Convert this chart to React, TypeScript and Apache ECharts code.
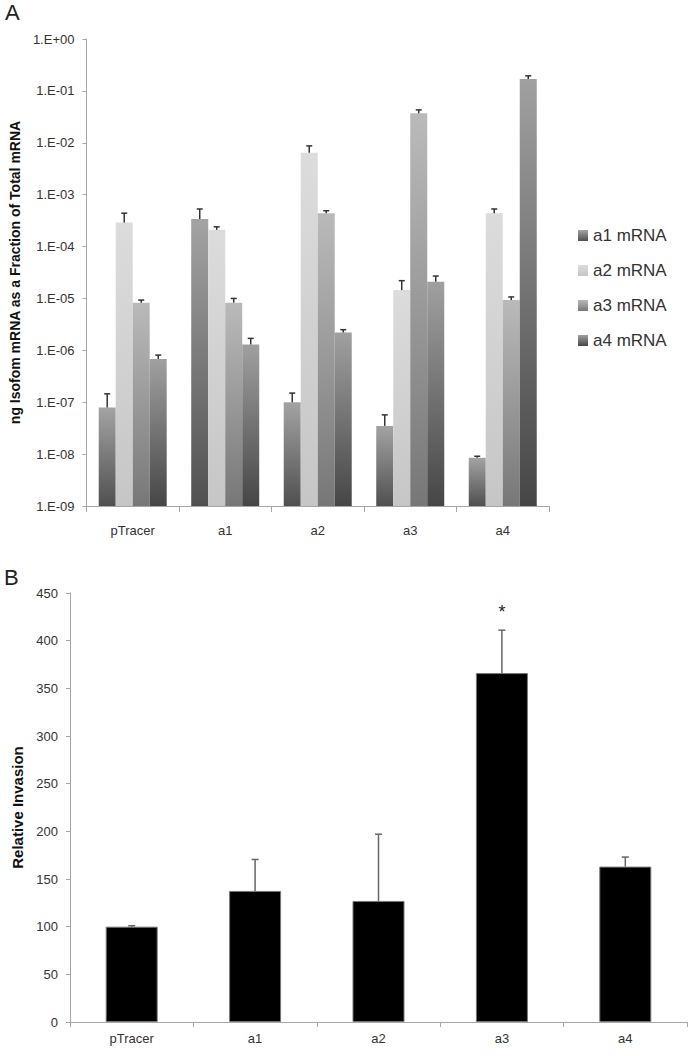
import React, { useEffect, useRef } from "react";
import * as echarts from "echarts";

// ---------- Panel A data ----------
const groupsA = ["pTracer", "a1", "a2", "a3", "a4"];
const seriesNamesA = ["a1 mRNA", "a2 mRNA", "a3 mRNA", "a4 mRNA"];
const a1mRNA = [7.9e-8, 3.4e-4, 1.0e-7, 3.5e-8, 8.5e-9];
const a2mRNA = [2.9e-4, 2.1e-4, 6.4e-3, 1.45e-5, 4.4e-4];
const a3mRNA = [8.3e-6, 8.3e-6, 4.4e-4, 3.7e-2, 9.3e-6];
const a4mRNA = [6.8e-7, 1.3e-6, 2.2e-6, 2.1e-5, 0.17];
// upper end of error bars
const a1mRNAErrTop = [1.45e-7, 5.3e-4, 1.5e-7, 5.7e-8, 9.1e-9];
const a2mRNAErrTop = [4.4e-4, 2.4e-4, 8.7e-3, 2.2e-5, 5.3e-4];
const a3mRNAErrTop = [9.3e-6, 1.0e-5, 4.9e-4, 4.3e-2, 1.07e-5];
const a4mRNAErrTop = [8.1e-7, 1.7e-6, 2.5e-6, 2.7e-5, 0.195];
const yMinA = 1e-9;
const yMaxA = 1;

// ---------- Panel B data ----------
const groupsB = ["pTracer", "a1", "a2", "a3", "a4"];
const invasion = [100, 137.5, 127, 366, 163];
const invasionErrTop = [101, 170.5, 197, 411, 173];
const significance = ["", "", "", "*", ""];

const FONT = "Liberation Sans, Arial, sans-serif";
const BAR_W = 17;

const gradientStops = [
  ["#a3a3a3", "#505050"],
  ["#dcdcdc", "#c6c6c6"],
  ["#bababa", "#777777"],
  ["#a0a0a0", "#464646"],
];

function grad(i: number) {
  return new echarts.graphic.LinearGradient(0, 0, 0, 1, [
    { offset: 0, color: gradientStops[i][0] },
    { offset: 1, color: gradientStops[i][1] },
  ]);
}

function expLabel(v: number) {
  const e = Math.round(Math.log10(v));
  return "1.E" + (e >= 0 ? "+" : "-") + String(Math.abs(e)).padStart(2, "0");
}

export default function App() {
  const ref = useRef<HTMLDivElement>(null);

  useEffect(() => {
    if (!ref.current) return;
    const chart = echarts.init(ref.current, undefined, { renderer: "svg" });

    const valuesA = [a1mRNA, a2mRNA, a3mRNA, a4mRNA];
    const errsA = [a1mRNAErrTop, a2mRNAErrTop, a3mRNAErrTop, a4mRNAErrTop];

    const barSeriesA = seriesNamesA.map((name, si) => ({
      name,
      type: "custom",
      xAxisIndex: 0,
      yAxisIndex: 0,
      itemStyle: { color: grad(si) },
      encode: { x: 0, y: 1 },
      data: valuesA[si].map((v, ci) => [ci, v]),
      renderItem: (params: any, api: any) => {
        const ci = api.value(0);
        const v = api.value(1);
        const top = api.coord([ci, v]);
        const base = api.coord([ci, yMinA]);
        const x = top[0] + (si - 1.5) * BAR_W - BAR_W / 2;
        return {
          type: "rect",
          shape: { x, y: top[1], width: BAR_W, height: base[1] - top[1] },
          style: { fill: grad(si) },
        };
      },
    }));

    const errDataA: number[][] = [];
    valuesA.forEach((arr, si) =>
      arr.forEach((v, ci) => errDataA.push([ci, si, v, errsA[si][ci]]))
    );

    const errSeriesA = {
      name: "errA",
      type: "custom",
      xAxisIndex: 0,
      yAxisIndex: 0,
      encode: { x: 0, y: [2, 3] },
      data: errDataA,
      z: 5,
      renderItem: (params: any, api: any) => {
        const ci = api.value(0);
        const si = api.value(1);
        const p0 = api.coord([ci, api.value(2)]);
        const p1 = api.coord([ci, api.value(3)]);
        const cx = p0[0] + (si - 1.5) * BAR_W;
        const st = { stroke: "#333", lineWidth: 1.5 };
        return {
          type: "group",
          children: [
            { type: "line", shape: { x1: cx, y1: p0[1], x2: cx, y2: p1[1] }, style: st },
            { type: "line", shape: { x1: cx - 3, y1: p1[1], x2: cx + 3, y2: p1[1] }, style: st },
          ],
        };
      },
    };

    const barSeriesB = {
      name: "Relative Invasion",
      type: "bar",
      xAxisIndex: 1,
      yAxisIndex: 1,
      barWidth: 52,
      itemStyle: { color: "#000", borderColor: "#777", borderWidth: 1 },
      data: invasion,
    };

    const errSeriesB = {
      name: "errB",
      type: "custom",
      xAxisIndex: 1,
      yAxisIndex: 1,
      encode: { x: 0, y: [1, 2] },
      data: invasion.map((v, i) => [i, v, invasionErrTop[i]]),
      z: 5,
      renderItem: (params: any, api: any) => {
        const ci = api.value(0);
        const p0 = api.coord([ci, api.value(1)]);
        const p1 = api.coord([ci, api.value(2)]);
        const st = { stroke: "#666", lineWidth: 1.5 };
        const children: any[] = [
          { type: "line", shape: { x1: p0[0], y1: p0[1], x2: p0[0], y2: p1[1] }, style: st },
          { type: "line", shape: { x1: p0[0] - 3.5, y1: p1[1], x2: p0[0] + 3.5, y2: p1[1] }, style: st },
        ];
        const sig = significance[ci];
        if (sig) {
          children.push({
            type: "text",
            x: p0[0],
            y: p1[1] - 18,
            style: {
              text: sig,
              fill: "#222",
              fontSize: 18,
              fontFamily: FONT,
              align: "center",
              verticalAlign: "middle",
            },
          });
        }
        return { type: "group", children };
      },
    };

    const axisLineStyle = { color: "#a6a6a6", width: 1 };

    chart.setOption({
      animation: false,
      backgroundColor: "#fff",
      textStyle: { fontFamily: FONT },
      graphic: [
        { type: "text", left: 5, top: 1, style: { text: "A", fontSize: 22, fill: "#222", fontFamily: FONT } },
        { type: "text", left: 4, top: 566, style: { text: "B", fontSize: 22, fill: "#222", fontFamily: FONT } },
      ],
      legend: {
        data: seriesNamesA,
        orient: "vertical",
        left: 573,
        top: 222,
        icon: "rect",
        itemWidth: 10,
        itemHeight: 11,
        itemGap: 18,
        textStyle: { fontSize: 17, color: "#333", fontFamily: FONT, padding: [0, 0, 0, 0] },
      },
      grid: [
        { left: 81, top: 39, width: 468, height: 467 },
        { left: 70, top: 593, width: 617, height: 429 },
      ],
      xAxis: [
        {
          type: "category",
          gridIndex: 0,
          data: groupsA,
          axisLine: { show: true, lineStyle: axisLineStyle },
          axisTick: { show: true, length: 6, lineStyle: axisLineStyle },
          axisLabel: { color: "#333", fontSize: 13, margin: 18, fontFamily: FONT },
          splitLine: { show: false },
        },
        {
          type: "category",
          gridIndex: 1,
          data: groupsB,
          axisLine: { show: true, lineStyle: axisLineStyle },
          axisTick: { show: true, length: 5, lineStyle: axisLineStyle },
          axisLabel: { color: "#333", fontSize: 13, margin: 10, fontFamily: FONT },
          splitLine: { show: false },
        },
      ],
      yAxis: [
        {
          type: "log",
          logBase: 10,
          gridIndex: 0,
          min: yMinA,
          max: yMaxA,
          interval: 1,
          axisLine: { show: true, lineStyle: axisLineStyle },
          axisTick: { show: true, length: 4, lineStyle: axisLineStyle },
          axisLabel: { color: "#333", fontSize: 13, margin: 12, fontFamily: FONT, formatter: expLabel },
          splitLine: { show: false },
          name: "ng Isofom mRNA as a Fraction of Total mRNA",
          nameLocation: "middle",
          nameGap: 62,
          nameTextStyle: { fontSize: 14, fontWeight: "bold", color: "#111", fontFamily: FONT },
        },
        {
          type: "value",
          gridIndex: 1,
          min: 0,
          max: 450,
          interval: 50,
          axisLine: { show: true, lineStyle: axisLineStyle },
          axisTick: { show: true, length: 4, lineStyle: axisLineStyle },
          axisLabel: { color: "#333", fontSize: 13, margin: 12, fontFamily: FONT },
          splitLine: { show: false },
          name: "Relative Invasion",
          nameLocation: "middle",
          nameGap: 43,
          nameTextStyle: { fontSize: 15, fontWeight: "bold", color: "#111", fontFamily: FONT },
        },
      ],
      series: [...barSeriesA, errSeriesA, barSeriesB, errSeriesB],
    } as any);

    return () => chart.dispose();
  }, []);

  return (
    <div
      ref={ref}
      style={{ position: "absolute", left: 0, top: 0, width: 700, height: 1056, background: "#fff" }}
    />
  );
}
